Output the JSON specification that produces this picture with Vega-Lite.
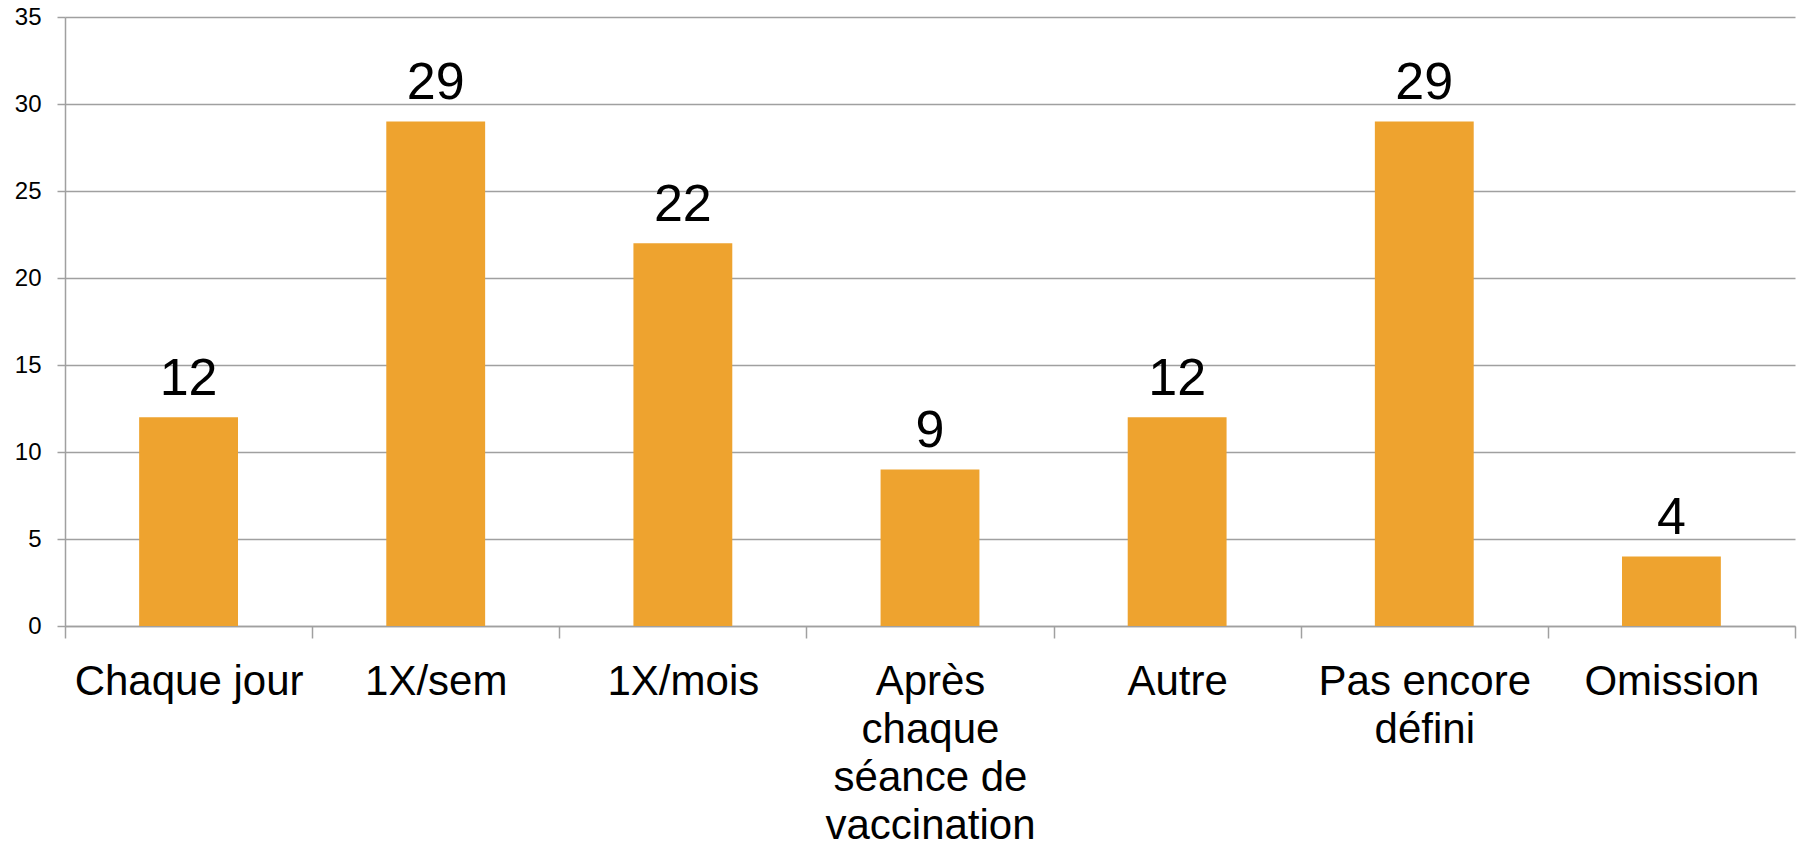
{
  "$schema": "https://vega.github.io/schema/vega-lite/v6.json",
  "width": 1730,
  "height": 609,
  "autosize": {"type": "none"},
  "padding": {"left": 65, "top": 17, "right": 8, "bottom": 220},
  "background": "white",
  "config": {
    "view": {"stroke": null},
    "axis": {
      "labelFont": "Liberation Sans",
      "labelColor": "#000000",
      "domainColor": "#a0a0a0",
      "tickColor": "#a0a0a0",
      "gridColor": "#a0a0a0",
      "domainWidth": 1.5,
      "tickWidth": 1.5,
      "gridWidth": 1.5,
      "title": null
    }
  },
  "data": {
    "values": [
      {"cat": "Chaque jour", "v": 12},
      {"cat": "1X/sem", "v": 29},
      {"cat": "1X/mois", "v": 22},
      {"cat": "Après|chaque|séance de|vaccination", "v": 9},
      {"cat": "Autre", "v": 12},
      {"cat": "Pas encore|défini", "v": 29},
      {"cat": "Omission", "v": 4}
    ]
  },
  "encoding": {
    "x": {
      "field": "cat",
      "type": "nominal",
      "sort": null,
      "scale": {"paddingInner": 0, "paddingOuter": 0},
      "axis": {
        "labelAngle": 0,
        "labelFontSize": 42,
        "labelLineHeight": 48,
        "labelLimit": 400,
        "labelPadding": 23,
        "tickSize": 12,
        "tickBand": "extent",
        "labelExpr": "split(datum.label, '|')"
      }
    },
    "y": {
      "field": "v",
      "type": "quantitative",
      "scale": {"domain": [0, 35], "nice": false},
      "axis": {
        "values": [0, 5, 10, 15, 20, 25, 30, 35],
        "grid": true,
        "tickSize": 8,
        "labelPadding": 16,
        "labelFontSize": 24
      }
    }
  },
  "layer": [
    {"mark": {"type": "bar", "color": "#EEA32F", "width": {"band": 0.4}}},
    {
      "mark": {"type": "text", "font": "Liberation Sans", "fontSize": 52, "baseline": "alphabetic", "dy": -22, "color": "#000000"},
      "encoding": {"text": {"field": "v", "type": "quantitative"}}
    }
  ]
}
